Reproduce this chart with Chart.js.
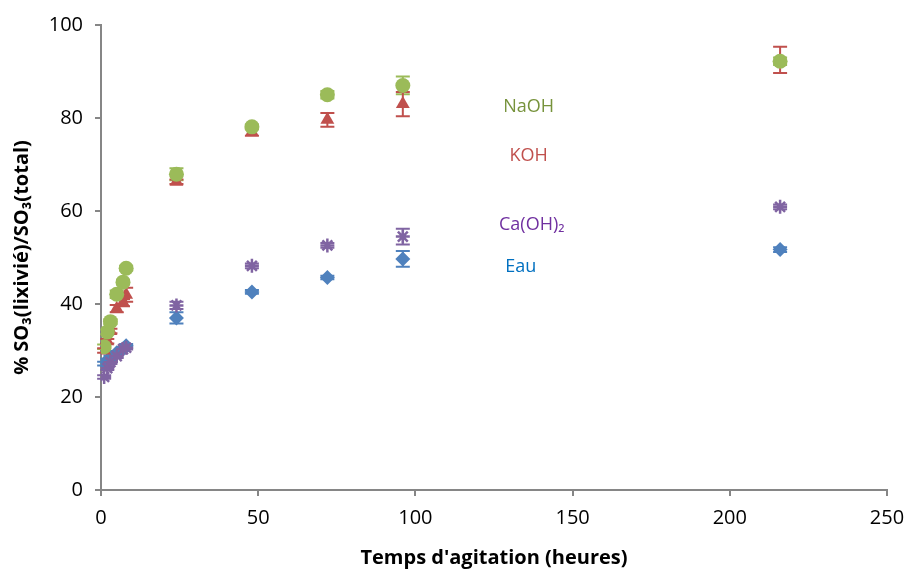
<!DOCTYPE html>
<html>
<head>
<meta charset="utf-8">
<script src="https://cdn.jsdelivr.net/npm/chart.js@4/dist/chart.umd.min.js"></script>
<style>
  html, body { margin: 0; padding: 0; background: #fff; }
  #wrap { width: 906px; height: 570px; }
</style>
</head>
<body>
<div id="wrap"><canvas id="myChart"></canvas></div>
<script>
// time of agitation (hours)
const hours = [1, 2, 3, 5, 7, 8, 24, 48, 72, 96, 216];

const naoh = [30.8, 34.0, 36.2, 42.1, 44.7, 47.7, 67.9, 78.1, 85.0, 87.0, 92.2];
const naohErr = [0.5, 0.5, 0.5, 0.8, 0.5, 0.5, 1.3, 0.5, 0.8, 1.9, 0.8];

const koh = [30.0, 32.0, 34.2, 39.0, 40.3, 42.0, 66.3, 77.0, 79.6, 83.0, 92.5];
const kohErr = [0.5, 0.5, 0.5, 0.8, 0.8, 1.5, 0.5, 0.8, 1.5, 2.6, 2.8];

const caoh2 = [24.3, 26.2, 27.5, 28.8, 30.3, 30.6, 39.7, 48.2, 52.6, 54.5, 60.9];
const caoh2Err = [0.4, 0.4, 0.4, 0.4, 0.4, 0.4, 0.8, 0.5, 0.5, 1.7, 0.5];

const eau = [27.2, 27.8, 28.5, 29.5, 30.3, 31.0, 37.0, 42.6, 45.7, 49.7, 51.7];
const eauErr = [0.4, 0.4, 0.4, 0.4, 0.4, 0.4, 1.2, 0.4, 0.4, 1.7, 0.5];

// in-plot labels (data coordinates)
const labels = [
  { text: "NaOH", x: 136, y: 82.4, color: "#77933C" },
  { text: "KOH", x: 136, y: 71.8, color: "#C0504D" },
  { text: "Ca(OH)\u2082", x: 137, y: 57.0, color: "#7030A0" },
  { text: "Eau", x: 133.5, y: 48.0, color: "#0070C0" }
];

function pts(ys) {
  return hours.map((h, i) => ({ x: h, y: ys[i] }));
}

const errorBars = {
  id: "errorBars",
  beforeDatasetsDraw(chart) {
    const ctx = chart.ctx;
    const xs = chart.scales.x, ys = chart.scales.y;
    chart.data.datasets.forEach(ds => {
      if (!ds.errors) return;
      ctx.save();
      ctx.strokeStyle = ds.borderColor;
      ctx.lineWidth = 2;
      ds.data.forEach((p, i) => {
        const e = ds.errors[i];
        const px = xs.getPixelForValue(p.x);
        const top = ys.getPixelForValue(p.y + e);
        const bot = ys.getPixelForValue(p.y - e);
        ctx.beginPath();
        ctx.moveTo(px, top); ctx.lineTo(px, bot);
        ctx.moveTo(px - 7, top); ctx.lineTo(px + 7, top);
        ctx.moveTo(px - 7, bot); ctx.lineTo(px + 7, bot);
        ctx.stroke();
      });
      ctx.restore();
    });
  }
};

const textLabels = {
  id: "textLabels",
  afterDraw(chart) {
    const ctx = chart.ctx;
    const xs = chart.scales.x, ys = chart.scales.y;
    ctx.save();
    ctx.font = "18px 'Open Sans'";
    ctx.textAlign = "center";
    ctx.textBaseline = "middle";
    labels.forEach(l => {
      ctx.fillStyle = l.color;
      ctx.fillText(l.text, xs.getPixelForValue(l.x), ys.getPixelForValue(l.y));
    });
    ctx.restore();
  }
};

const chart = document.querySelector("#myChart").getContext("2d");

new Chart(chart, {
  type: "scatter",
  data: {
    datasets: [
      {
        label: "NaOH",
        data: pts(naoh),
        errors: naohErr,
        backgroundColor: "#9BBB59",
        borderColor: "#9BBB59",
        pointStyle: "circle",
        pointRadius: 7.5,
        borderWidth: 0
      },
      {
        label: "KOH",
        data: pts(koh),
        errors: kohErr,
        backgroundColor: "#C0504D",
        borderColor: "#C0504D",
        pointStyle: "triangle",
        pointRadius: 8,
        borderWidth: 0
      },
      {
        label: "Ca(OH)2",
        data: pts(caoh2),
        errors: caoh2Err,
        backgroundColor: "#8064A2",
        borderColor: "#8064A2",
        pointStyle: "star",
        pointRadius: 7,
        borderWidth: 2.5
      },
      {
        label: "Eau",
        data: pts(eau),
        errors: eauErr,
        backgroundColor: "#4F81BD",
        borderColor: "#4F81BD",
        pointStyle: "rectRot",
        pointRadius: 7.5,
        borderWidth: 0
      }
    ]
  },
  options: {
    responsive: true,
    maintainAspectRatio: false,
    animation: false,
    layout: { padding: { top: 25, right: 19, left: 0, bottom: 0 } },
    plugins: {
      legend: { display: false },
      tooltip: { enabled: false }
    },
    scales: {
      x: {
        type: "linear",
        min: 0,
        max: 250,
        ticks: { stepSize: 50, color: "#000", font: { family: "Open Sans", size: 20 }, padding: 10 },
        grid: { drawOnChartArea: false, color: "#868686", tickLength: 6, lineWidth: 2 },
        border: { color: "#868686", width: 2 },
        title: {
          display: true,
          text: "Temps d'agitation (heures)",
          color: "#000",
          font: { family: "Open Sans", size: 20, weight: "bold" },
          padding: { top: 4, bottom: 0 }
        },
        afterFit: s => { s.height = 80; s.paddingLeft = 0; s.paddingRight = 0; }
      },
      y: {
        type: "linear",
        min: 0,
        max: 100,
        ticks: { stepSize: 20, color: "#000", font: { family: "Open Sans", size: 20 }, padding: 12 },
        grid: { drawOnChartArea: false, color: "#868686", tickLength: 6, lineWidth: 2 },
        border: { color: "#868686", width: 2 },
        title: {
          display: true,
          text: "% SO\u2083(lixivi\u00e9)/SO\u2083(total)",
          color: "#000",
          font: { family: "Open Sans", size: 20, weight: "bold" },
          padding: { top: 10, bottom: 0 }
        },
        afterFit: s => { s.width = 101; s.paddingTop = 0; s.paddingBottom = 0; }
      }
    }
  },
  plugins: [errorBars, textLabels]
});
</script>
</body>
</html>
